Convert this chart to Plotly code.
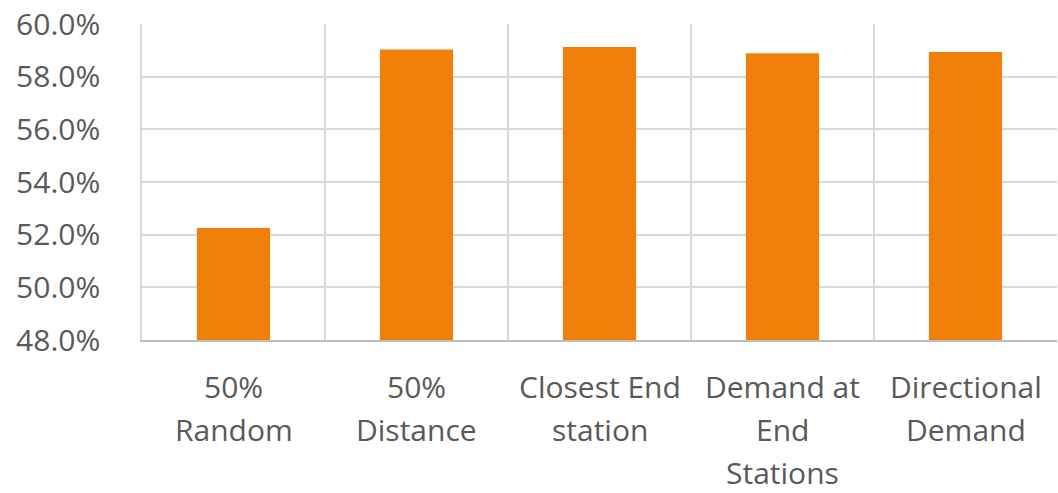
import plotly.graph_objects as go

categories = ["50%\nRandom", "50%\nDistance", "Closest End\nstation", "Demand at\nEnd\nStations", "Directional\nDemand"]
values = [0.5225, 0.5903, 0.5913, 0.5889, 0.5894]
y_ticks = [0.48, 0.50, 0.52, 0.54, 0.56, 0.58, 0.60]

keys = [c.replace("\n", " ") for c in categories]

FONT = "Open Sans"
GRAY = "#595959"
FS = 30

fig = go.Figure(go.Bar(
    x=keys, y=values, marker=dict(color="#F0800A", line=dict(width=0)),
    hoverinfo="skip",
))

annotations = []
for key, label in zip(keys, categories):
    for i, line in enumerate(label.split("\n")):
        annotations.append(dict(
            x=key, xref="x", y=0, yref="paper", yanchor="middle",
            yshift=-46 - 43 * i, text=line, showarrow=False,
            font=dict(family=FONT, size=FS, color=GRAY),
        ))

fig.update_layout(
    width=1058, height=493,
    margin=dict(l=142, r=1, t=24, b=153),
    paper_bgcolor="white", plot_bgcolor="white",
    bargap=0.6, showlegend=False,
    annotations=annotations,
    font=dict(family=FONT, size=FS, color=GRAY),
)
fig.update_xaxes(
    type="category", tickson="boundaries", showgrid=True,
    gridcolor="#d9d9d9", gridwidth=1.5, showticklabels=False, ticks="",
    showline=True, linecolor="#bfbfbf", linewidth=1.5, mirror=False,
    zeroline=False,
)
fig.update_yaxes(
    range=[0.48, 0.60], tickvals=y_ticks, tickformat=".1%",
    showgrid=True, gridcolor="#d9d9d9", gridwidth=1.5,
    showline=True, linecolor="#d9d9d9", linewidth=1.5, zeroline=False,
    ticks="", ticklabelstandoff=34,
    tickfont=dict(family=FONT, size=FS, color=GRAY),
)
fig.write_html("out.html")
